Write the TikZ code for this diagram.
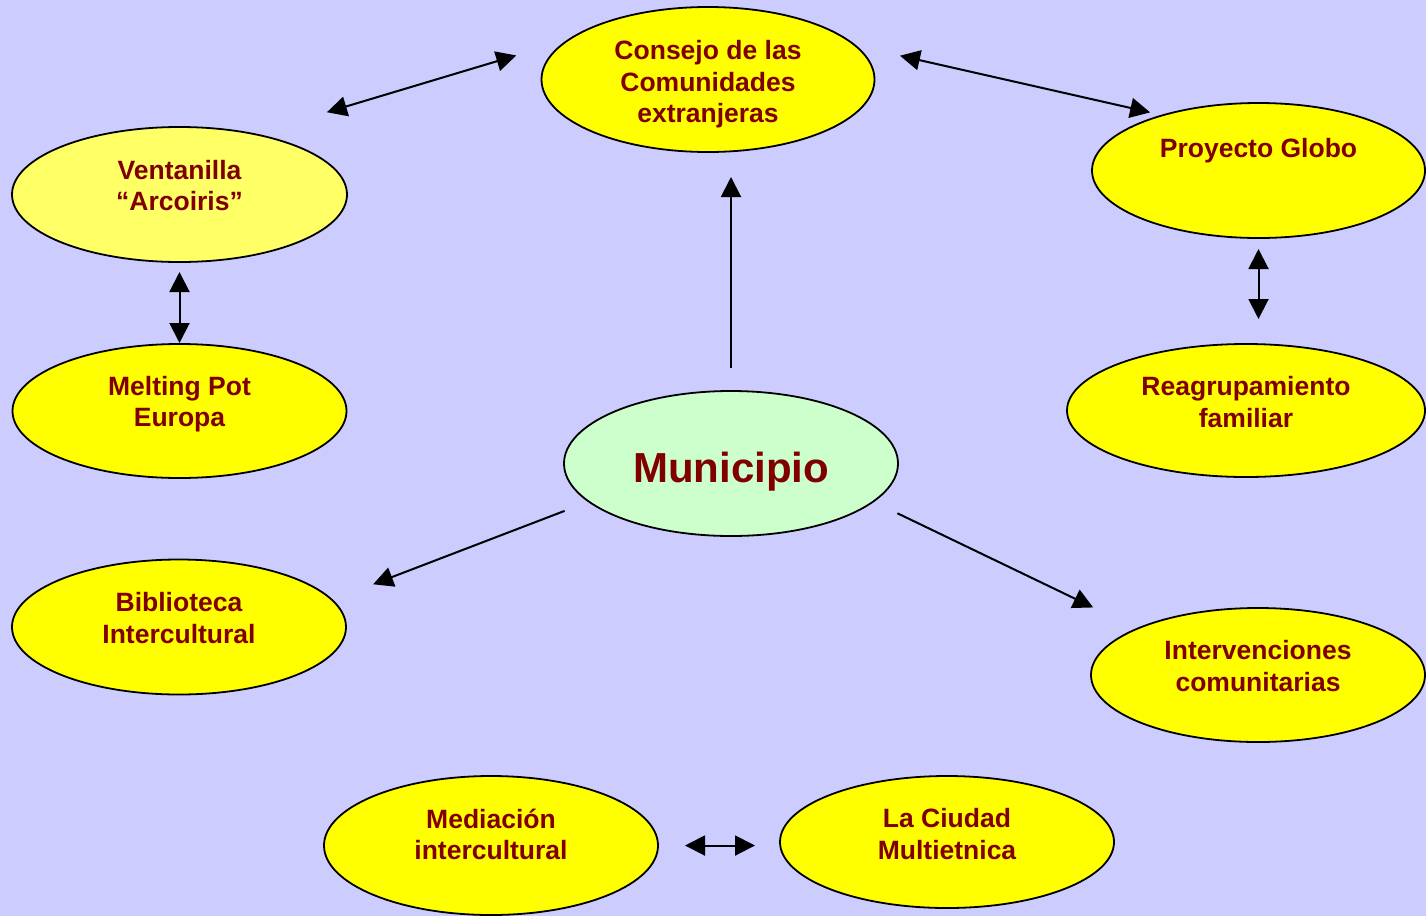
\documentclass[tikz,border=0pt]{standalone}
\usepackage{fontspec}
\setmainfont{Liberation Sans}
\usepackage{tikz}
\usetikzlibrary{calc,arrows.meta,shapes.geometric}
\usepackage{xcolor}
\definecolor{bgblue}{HTML}{CCCCFF}
\definecolor{bubyel}{HTML}{FFFF00}
\definecolor{bublight}{HTML}{FFFF66}
\definecolor{bubgreen}{HTML}{CCFFCC}
\definecolor{txtred}{HTML}{800000}
\tikzset{
  bubble/.style={ellipse, draw=black, line width=1.8pt, fill=bubyel, inner sep=0pt, outer sep=0pt,
    minimum width=334pt, minimum height=135pt},
  lbl/.style={text=txtred, align=center, font=\fontsize{26.5}{31.5}\selectfont\bfseries},
  arr/.style={line width=2pt, -{Triangle[length=20pt,width=20pt]}},
  dblarr/.style={line width=2pt, {Triangle[length=20pt,width=20pt]}-{Triangle[length=20pt,width=20pt]}}
}

\begin{document}
\begin{tikzpicture}[x=1pt,y=-1pt]
\useasboundingbox (0,0) rectangle (1426,916);
\fill [bgblue] (0,0) rectangle (1426,916);

\node [bubble, minimum width=333pt, minimum height=145pt] (cons) at (708,79.5) {};
\node [bubble, fill=bublight, minimum width=335pt] (vent) at (179.5,194.5) {};
\node [bubble, minimum height=134pt] (melt) at (179.5,411) {};
\node [bubble] (bib) at (179,627) {};
\node [bubble, fill=bubgreen, minimum height=145pt] (muni) at (731,463.5) {};
\node [bubble, minimum width=333pt] (proy) at (1258.5,170.5) {};
\node [bubble, minimum width=358pt, minimum height=133pt] (reag) at (1246,410.5) {};
\node [bubble, minimum height=134pt] (interv) at (1258,675) {};
\node [bubble, minimum height=139pt] (med) at (491,845.5) {};
\node [bubble, minimum height=132pt] (ciudad) at (947,842) {};

\node [lbl] (consT) at ($(cons)+(0,5)$) {Consejo de las\\Comunidades\\extranjeras};
\node [lbl] (ventT) at ($(vent)+(0,-9)$) {Ventanilla\\``Arcoiris''};
\node [lbl] (meltT) at ($(melt)+(0,-7)$) {Melting Pot\\Europa};
\node [lbl] (bibT) at ($(bib)+(0,-9)$) {Biblioteca\\Intercultural};
\node [lbl, font=\fontsize{42}{48}\selectfont\bfseries] (muniT) at ($(muni)+(0,8)$) {Municipio};
\node [lbl] (proyT) at ($(proy)+(0,-20)$) {Proyecto Globo};
\node [lbl] (reagT) at ($(reag)+(0,-8.5)$) {Reagrupamiento\\familiar};
\node [lbl] (intervT) at ($(interv)+(0,-9)$) {Intervenciones\\comunitarias};
\node [lbl] (medT) at ($(med)+(0,-11)$) {Mediaci\'on\\intercultural};
\node [lbl] (ciudadT) at ($(ciudad)+(0,-8)$) {La Ciudad\\Multietnica};

% connectors
\draw [dblarr, shorten <=76pt, shorten >=55pt] (vent.39.4) -- (cons.164);
\draw [dblarr, shorten <=46pt, shorten >=13pt] (cons.13.1) -- (proy.150.5);
\draw [arr, shorten <=23pt, shorten >=25pt] (muni.north) -- (muni.north |- cons.south);
\draw [arr, shorten <=26pt, shorten >=44pt] (muni.195) -- (bib.10.6);
\draw [arr, shorten <=27pt, shorten >=49pt] (muni.345.8) -- (interv.159.9);
\draw [dblarr, shorten <=10pt, shorten >=1pt] (vent.south) -- (melt.north);
\draw [dblarr, shorten <=11pt, shorten >=25pt] (proy.south) -- (proy.south |- reag.north);
\draw [dblarr, shorten <=27pt, shorten >=25pt] (med.east) -- (med.east -| ciudad.west);
\end{tikzpicture}
\end{document}
